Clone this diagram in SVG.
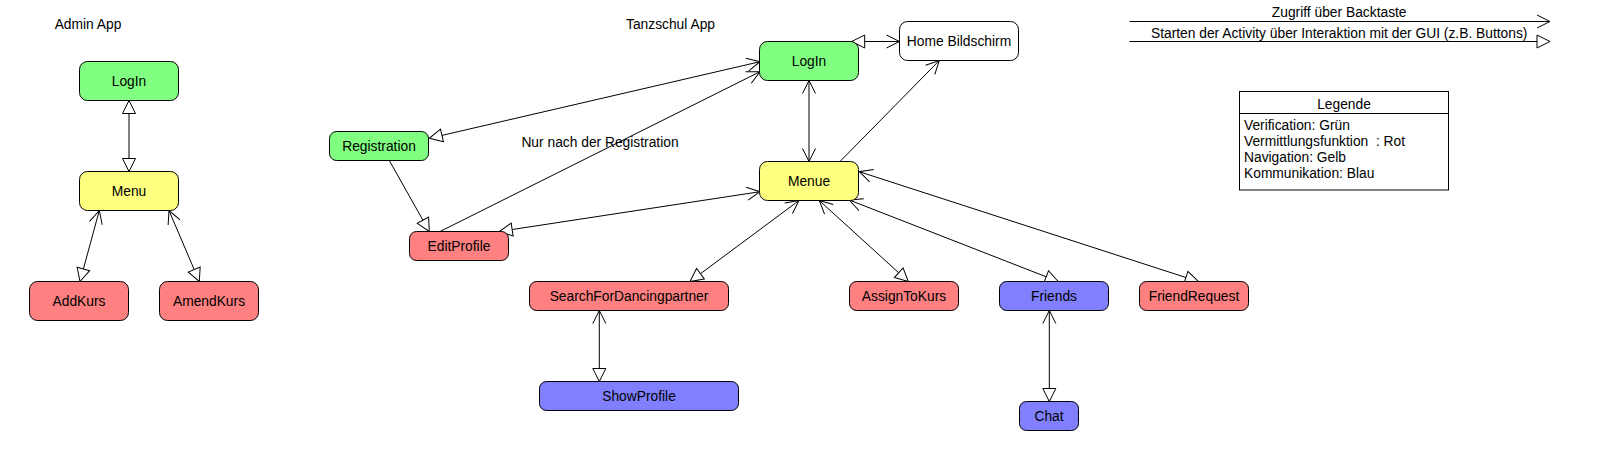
<svg xmlns="http://www.w3.org/2000/svg" width="1616" height="476" viewBox="0 0 1616 476">
<style>
text{font-family:"Liberation Sans",Arial,sans-serif;font-size:13.8px;fill:#000;}
.c{text-anchor:middle;dominant-baseline:central;}
.l{text-anchor:start;dominant-baseline:central;}
.n{stroke:#000;stroke-width:1;}
.g{fill:#80FF80;}.y{fill:#FFFF80;}.r{fill:#FF8080;}.b{fill:#8080FF;}.w{fill:#FFFFFF;}
.e line{stroke:#000;stroke-width:1;fill:none;}
.o{marker-start:url(#op);}
.oe{marker-end:url(#op);}
.t{marker-start:url(#tr);}
.te{marker-end:url(#tr);}
</style>
<defs>
<marker id="op" viewBox="-1 -1 15 15" refX="13" refY="6.5" markerWidth="15" markerHeight="15" markerUnits="userSpaceOnUse" orient="auto-start-reverse" overflow="visible">
<path d="M0,0 L13,6.5 L0,13" fill="none" stroke="#000" stroke-width="1"/>
</marker>
<marker id="tr" viewBox="-1 -1 15 15" refX="13" refY="6.5" markerWidth="15" markerHeight="15" markerUnits="userSpaceOnUse" orient="auto-start-reverse" overflow="visible">
<path d="M0,0 L13,6.5 L0,13 Z" fill="#fff" stroke="#000" stroke-width="1"/>
</marker>
</defs>
<rect width="1616" height="476" fill="#fff"/>
<text class="c" x="88" y="24">Admin App</text>
<text class="c" x="670.5" y="24">Tanzschul App</text>
<text class="c" x="600" y="142.3">Nur nach der Registration</text>
<g id="connectors" class="e">
<line class="t te" x1="129" y1="100.5" x2="129" y2="171.5"/>
<line class="o te" x1="99.3" y1="210.5" x2="80" y2="281.5"/>
<line class="o te" x1="169" y1="210.5" x2="199.3" y2="281.5"/>
<line class="t oe" x1="851.7" y1="41.5" x2="899.5" y2="41.5"/>
<line class="o te" x1="760" y1="61.7" x2="429.3" y2="138.3"/>
<line class="oe" x1="440" y1="231.5" x2="760" y2="71.7"/>
<line class="te" x1="389.3" y1="160.5" x2="429.3" y2="231.5"/>
<line class="o te" x1="760" y1="191.7" x2="499.3" y2="231.5"/>
<line class="o oe" x1="809" y1="80.5" x2="809" y2="161.5"/>
<line class="oe" x1="840" y1="161.5" x2="939.3" y2="60.5"/>
<line class="o te" x1="799" y1="200.5" x2="690" y2="281.5"/>
<line class="o te" x1="819.3" y1="200.5" x2="908.3" y2="281.5"/>
<line class="o te" x1="849.3" y1="200" x2="1058.3" y2="281.5"/>
<line class="o te" x1="859.3" y1="171.7" x2="1198.3" y2="281.5"/>
<line class="o te" x1="599.3" y1="310.5" x2="599.3" y2="381.5"/>
<line class="o te" x1="1049.3" y1="310.5" x2="1049.3" y2="401.5"/>
<line class="oe" x1="1129.5" y1="21.5" x2="1550" y2="21.5"/>
<line class="te" x1="1129.5" y1="41.5" x2="1550" y2="41.5"/>
</g>
<text class="c" x="1339.2" y="12.7">Zugriff über Backtaste</text>
<text class="c" x="1339.2" y="33.3">Starten der Activity über Interaktion mit der GUI (z.B. Buttons)</text>
<g id="admin_login"><rect class="n g" x="79.5" y="61.5" width="99" height="39" rx="8"/><text class="c" x="129" y="81">LogIn</text></g>
<g id="admin_menu"><rect class="n y" x="79.5" y="171.5" width="99" height="39" rx="8"/><text class="c" x="129" y="191">Menu</text></g>
<g id="admin_addkurs"><rect class="n r" x="29.5" y="281.5" width="99" height="39" rx="8"/><text class="c" x="79" y="301">AddKurs</text></g>
<g id="admin_amendkurs"><rect class="n r" x="159.5" y="281.5" width="99" height="39" rx="8"/><text class="c" x="209" y="301">AmendKurs</text></g>
<g id="login"><rect class="n g" x="759.5" y="41.5" width="99" height="39" rx="8"/><text class="c" x="809" y="61">LogIn</text></g>
<g id="home"><rect class="n w" x="899.5" y="21.5" width="119" height="39" rx="8"/><text class="c" x="959" y="41">Home Bildschirm</text></g>
<g id="registration"><rect class="n g" x="329.5" y="131.5" width="99" height="29" rx="7"/><text class="c" x="379" y="146">Registration</text></g>
<g id="editprofile"><rect class="n r" x="409.5" y="231.5" width="99" height="29" rx="7"/><text class="c" x="459" y="246">EditProfile</text></g>
<g id="menue"><rect class="n y" x="759.5" y="161.5" width="99" height="39" rx="8"/><text class="c" x="809" y="181">Menue</text></g>
<g id="search"><rect class="n r" x="529.5" y="281.5" width="199" height="29" rx="7"/><text class="c" x="629" y="296">SearchForDancingpartner</text></g>
<g id="assign"><rect class="n r" x="849.5" y="281.5" width="109" height="29" rx="7"/><text class="c" x="904" y="296">AssignToKurs</text></g>
<g id="friends"><rect class="n b" x="999.5" y="281.5" width="109" height="29" rx="7"/><text class="c" x="1054" y="296">Friends</text></g>
<g id="friendrequest"><rect class="n r" x="1139.5" y="281.5" width="109" height="29" rx="7"/><text class="c" x="1194" y="296">FriendRequest</text></g>
<g id="showprofile"><rect class="n b" x="539.5" y="381.5" width="199" height="29" rx="7"/><text class="c" x="639" y="396">ShowProfile</text></g>
<g id="chat"><rect class="n b" x="1019.5" y="401.5" width="59" height="29" rx="7"/><text class="c" x="1049" y="416">Chat</text></g>
<g id="legend">
<rect class="n w" x="1239.5" y="91.5" width="209" height="98.5"/>
<line x1="1239.5" y1="113.5" x2="1448.5" y2="113.5" stroke="#000" stroke-width="1"/>
<text class="c" x="1344" y="104.3">Legende</text>
<text class="l" x="1244" y="125.7">Verification: Grün</text>
<text class="l" x="1244" y="141.7" xml:space="preserve">Vermittlungsfunktion  : Rot</text>
<text class="l" x="1244" y="157.3">Navigation: Gelb</text>
<text class="l" x="1244" y="173.3">Kommunikation: Blau</text>
</g>
</svg>
